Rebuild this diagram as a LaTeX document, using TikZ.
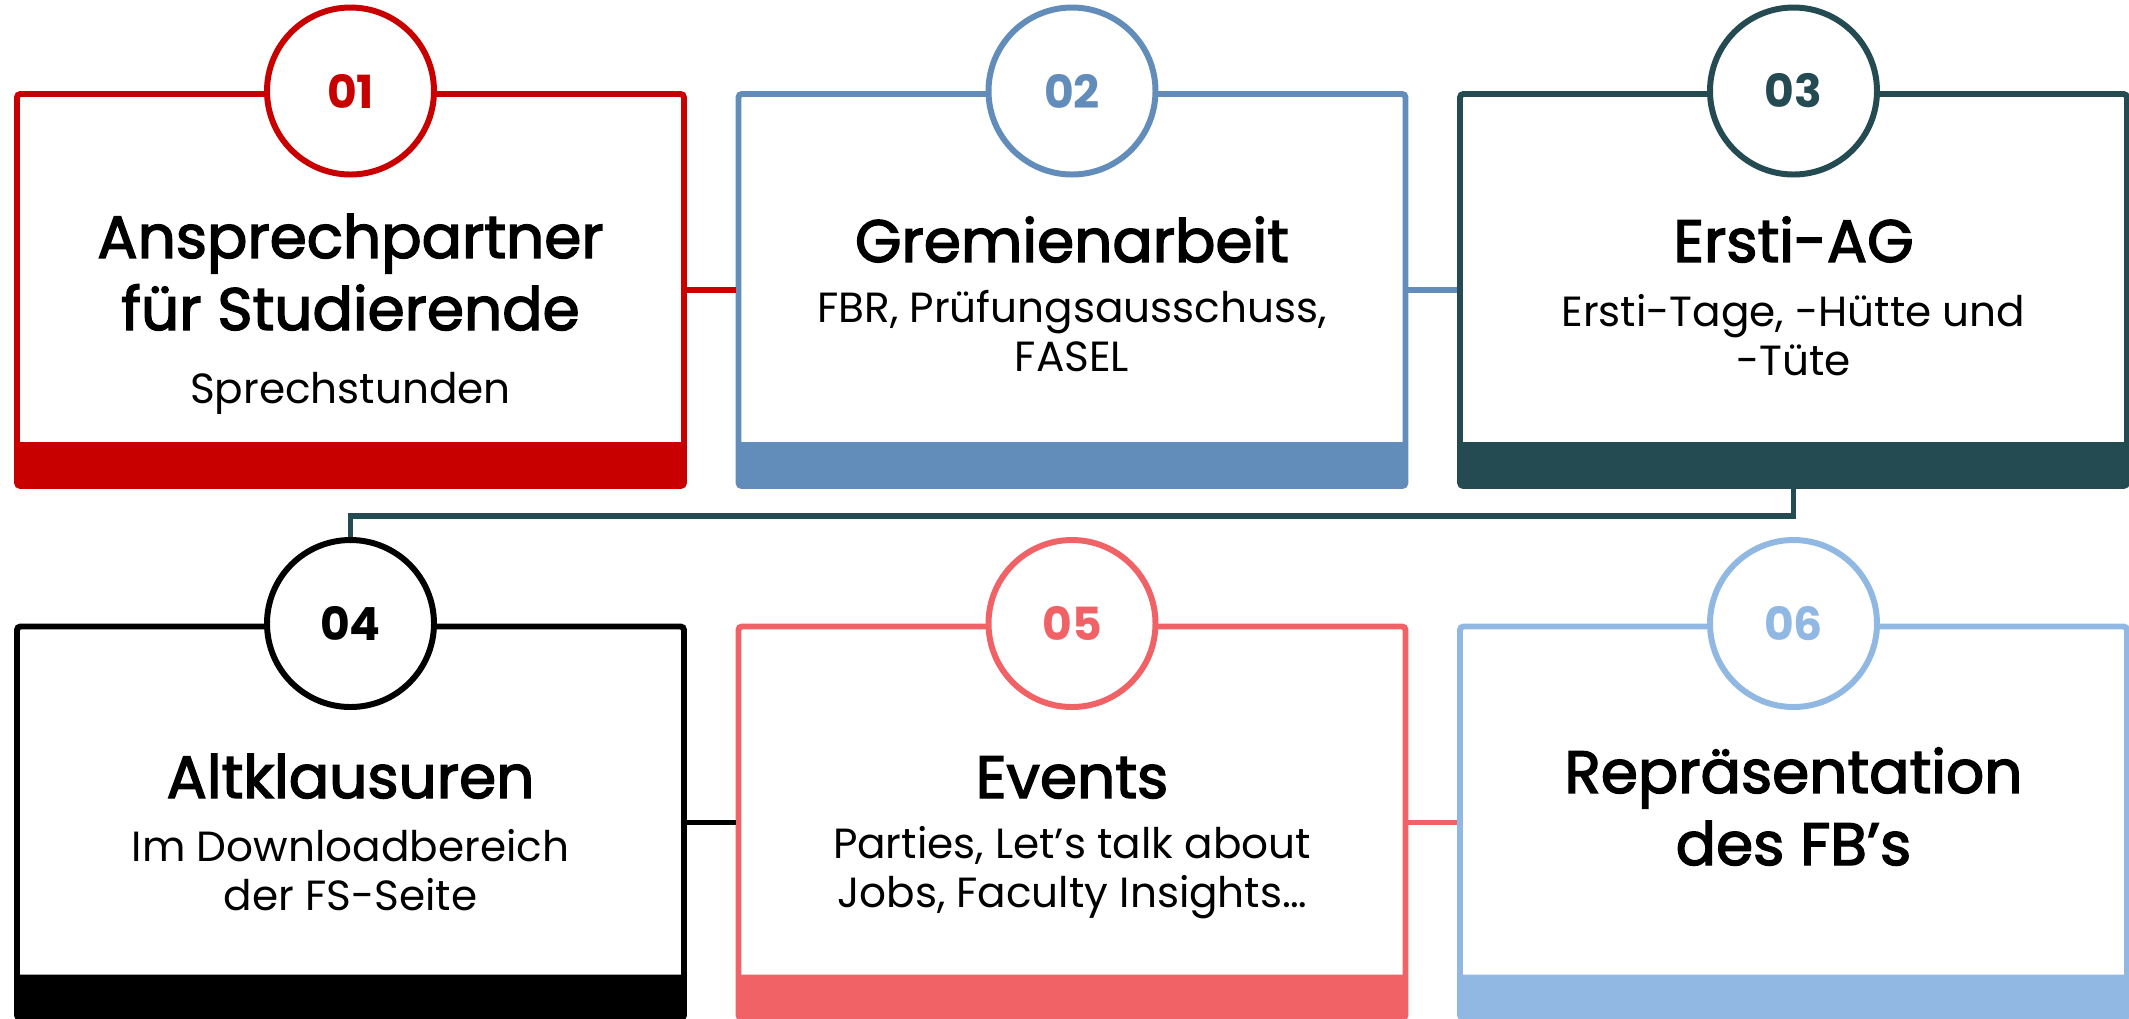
\documentclass[tikz,border=0pt]{standalone}
\usepackage{fontspec}
\setmainfont{Poppins}
\newfontfamily\titlefont[FakeBold=2.4]{Poppins}
\usetikzlibrary{positioning}

\definecolor{fsred}{HTML}{C80000}
\definecolor{fsblue}{HTML}{628DBA}
\definecolor{fsdark}{HTML}{244A52}
\definecolor{fsblack}{HTML}{000000}
\definecolor{fscoral}{HTML}{F06266}
\definecolor{fslight}{HTML}{90B8E3}

\begin{document}
\begin{tikzpicture}[thick,
    box/.style={draw=#1, line width=1.7pt, rounded corners=1pt, minimum width=6.67cm, minimum height=3.92cm, inner sep=0pt,
        path picture={\fill[#1] ([yshift=0.44cm]path picture bounding box.south west) rectangle (path picture bounding box.south east);}},
    num/.style={draw=#1, text=#1, circle, fill=white, line width=1.7pt, minimum size=1.67cm, inner sep=0pt, font=\bfseries\fontsize{13}{13}\selectfont},
    title/.style={anchor=base, align=center, font=\titlefont\fontsize{17}{20.5}\selectfont},
    sub/.style={anchor=base, align=center, font=\fontsize{12}{13.8}\selectfont},
    link/.style={draw=#1, line width=1.6pt}]

    \useasboundingbox (0,0) rectangle (21.29,-10.19);

    % first row
    \node[box=fsred]   at (3.505, -2.90)  (b1) {};
    \node[box=fsblue]  at (10.72, -2.90)  (b2) {};
    \node[box=fsdark]  at (17.935, -2.90) (b3) {};
    % second row
    \node[box=fsblack] at (3.505, -8.225)  (b4) {};
    \node[box=fscoral] at (10.72, -8.225)  (b5) {};
    \node[box=fslight] at (17.935, -8.225) (b6) {};

    \draw[link=fsred]   (b1) -- (b2);
    \draw[link=fsblue]  (b2) -- (b3);
    \draw[link=fsblack] (b4) -- (b5);
    \draw[link=fscoral] (b5) -- (b6);

    \node[num=fsred]   at (b1.north) (c1) {01};
    \node[num=fsblue]  at (b2.north) (c2) {02};
    \node[num=fsdark]  at (b3.north) (c3) {03};
    \node[num=fsblack] at (b4.north) (c4) {04};
    \node[num=fscoral] at (b5.north) (c5) {05};
    \node[num=fslight] at (b6.north) (c6) {06};
    \draw[link=fsdark] (b3.south) -- ++(0,-0.27) -| (c4.north);

    % base = last line
    \node[title] at (3.505, -3.30)  (t1) {Ansprechpartner\\für Studierende};
    \node[sub]   at (3.505, -4.03)  (s1) {Sprechstunden};
    \node[title] at (10.72, -2.62)  (t2) {Gremienarbeit};
    \node[sub]   at (10.72, -3.71)  (s2) {FBR, Prüfungsausschuss,\\FASEL};
    \node[title] at (17.935, -2.62) (t3) {Ersti-AG};
    \node[sub]   at (17.935, -3.75) (s3) {Ersti-Tage, -Hütte und\\-Tüte};

    \node[title] at (3.505, -7.98)  (t4) {Altklausuren};
    \node[sub]   at (3.505, -9.10)  (s4) {Im Downloadbereich\\der FS-Seite};
    \node[title] at (10.72, -7.98)  (t5) {Events};
    \node[sub]   at (10.72, -9.07)  (s5) {Parties, Let’s talk about\\Jobs, Faculty Insights…};
    \node[title] at (17.935, -8.65) (t6) {Repräsentation\\des FB’s};

\end{tikzpicture}
\end{document}
